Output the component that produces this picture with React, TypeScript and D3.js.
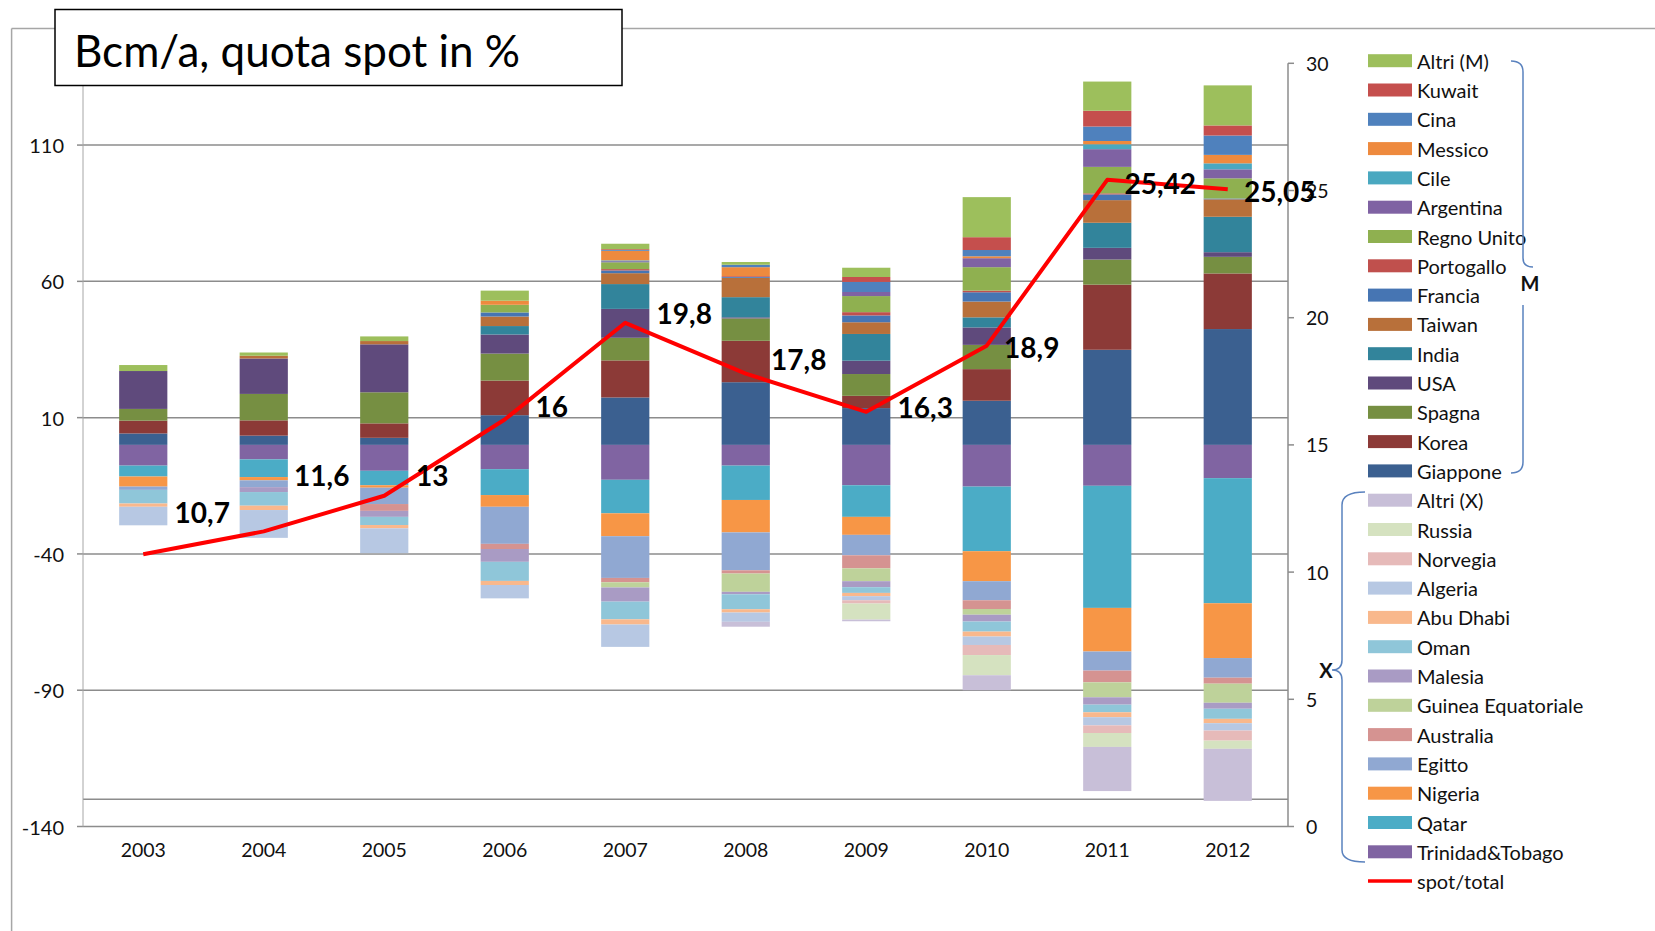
import React from 'react';
import * as d3 from 'd3';

// ---------- DATA ----------
const years = ['2003', '2004', '2005', '2006', '2007', '2008', '2009', '2010', '2011', '2012'];

// Importers (M), Bcm/a, stacked upward from zero in this order
const giappone = [4.2, 3.4, 2.6, 10.9, 17.4, 23.0, 13.5, 16.2, 34.9, 42.5];
const korea = [4.7, 5.6, 5.3, 12.7, 13.6, 15.2, 4.5, 11.6, 23.9, 20.4];
const spagna = [4.3, 9.7, 11.4, 9.9, 8.3, 8.2, 8.0, 8.9, 9.2, 6.1];
const usa = [13.9, 13.0, 17.6, 7.0, 10.6, 0.4, 4.9, 6.4, 4.3, 1.7];
const india = [0, 0, 0, 3.1, 9.1, 7.4, 9.8, 3.7, 9.2, 13.0];
const taiwan = [0, 1.0, 1.2, 3.5, 4.0, 7.1, 4.3, 5.8, 8.3, 6.4];
const francia = [0, 0, 0, 1.5, 1.0, 0.3, 2.5, 3.4, 2.1, 0.3];
const portogallo = [0, 0, 0, 0, 0.5, 0.3, 1.2, 0.6, 0.4, 0];
const regnoUnito = [0, 0, 0, 2.8, 2.5, 0, 5.9, 8.6, 9.7, 7.4];
const argentina = [0, 0, 0, 0, 0.4, 0, 1.5, 3.3, 6.5, 3.3];
const cile = [0, 0, 0, 0, 0.3, 0, 0, 0, 1.8, 2.2];
const messico = [0, 0, 0, 1.5, 3.5, 3.3, 0, 0.7, 1.2, 3.1];
const cina = [0, 0, 0, 0, 0.3, 0.9, 3.7, 2.3, 5.3, 7.1];
const kuwait = [0, 0, 0, 0, 0.3, 0, 1.8, 4.7, 5.8, 3.7];
const altriM = [2.2, 1.2, 1.7, 3.7, 2.0, 1.0, 3.4, 14.7, 10.7, 14.7];

// Exporters (X), Bcm/a, stacked downward from zero in this order
const trinidad = [7.6, 5.3, 9.5, 8.9, 12.8, 7.6, 14.8, 15.3, 15.0, 12.2];
const qatar = [4.0, 6.5, 5.3, 9.5, 12.3, 12.6, 11.6, 23.7, 44.8, 45.9];
const nigeria = [3.7, 1.2, 0.9, 4.3, 8.4, 11.9, 6.6, 11.0, 16.0, 20.1];
const egitto = [1.2, 2.5, 6.0, 13.6, 15.3, 13.9, 7.5, 7.0, 7.0, 7.2];
const australia = [0, 0, 2.5, 1.9, 1.6, 1.2, 4.8, 3.2, 4.3, 2.2];
const guinea = [0, 0, 0, 0, 1.9, 6.7, 4.7, 2.1, 5.5, 7.0];
const malesia = [0, 1.8, 2.2, 4.7, 5.2, 0.9, 2.2, 2.5, 2.7, 2.2];
const oman = [5.0, 5.0, 3.0, 7.0, 6.5, 5.5, 2.1, 3.7, 2.8, 3.7];
const abuDhabi = [1.2, 1.6, 1.2, 1.5, 1.9, 1.2, 1.2, 1.8, 1.8, 1.6];
const algeria = [6.8, 10.2, 9.1, 4.9, 8.2, 3.4, 1.5, 3.1, 3.0, 2.7];
const norvegia = [0, 0, 0, 0, 0, 0, 1.2, 3.7, 2.8, 3.7];
const russia = [0, 0, 0, 0, 0, 0, 5.9, 7.4, 5.1, 3.0];
const altriX = [0, 0, 0, 0, 0, 1.8, 0.6, 5.5, 16.2, 19.1];

// spot share of total, %
const spotShare = [10.7, 11.6, 13, 16, 19.8, 17.8, 16.3, 18.9, 25.42, 25.05];
const spotLabels = ['10,7', '11,6', '13', '16', '19,8', '17,8', '16,3', '18,9', '25,42', '25,05'];

const leftTicks = [-140, -90, -40, 10, 60, 110];
const rightTicks = [0, 5, 10, 15, 20, 25, 30];

const mSeries = [
  { name: 'Giappone', values: giappone, color: '#3B6090' },
  { name: 'Korea', values: korea, color: '#8C3A37' },
  { name: 'Spagna', values: spagna, color: '#768F42' },
  { name: 'USA', values: usa, color: '#5F4A7C' },
  { name: 'India', values: india, color: '#32849B' },
  { name: 'Taiwan', values: taiwan, color: '#B8703A' },
  { name: 'Francia', values: francia, color: '#4675B3' },
  { name: 'Portogallo', values: portogallo, color: '#C0504D' },
  { name: 'Regno Unito', values: regnoUnito, color: '#8FB050' },
  { name: 'Argentina', values: argentina, color: '#7F62A3' },
  { name: 'Cile', values: cile, color: '#4AA8C0' },
  { name: 'Messico', values: messico, color: '#EE8A3E' },
  { name: 'Cina', values: cina, color: '#4F81BD' },
  { name: 'Kuwait', values: kuwait, color: '#C54F4D' },
  { name: 'Altri (M)', values: altriM, color: '#9DBF5C' },
];

const xSeries = [
  { name: 'Trinidad&Tobago', values: trinidad, color: '#8064A2' },
  { name: 'Qatar', values: qatar, color: '#4BACC6' },
  { name: 'Nigeria', values: nigeria, color: '#F79646' },
  { name: 'Egitto', values: egitto, color: '#90A8D2' },
  { name: 'Australia', values: australia, color: '#D59391' },
  { name: 'Guinea Equatoriale', values: guinea, color: '#BED29A' },
  { name: 'Malesia', values: malesia, color: '#A99BC4' },
  { name: 'Oman', values: oman, color: '#8FC6D9' },
  { name: 'Abu Dhabi', values: abuDhabi, color: '#F9B88C' },
  { name: 'Algeria', values: algeria, color: '#B7C8E3' },
  { name: 'Norvegia', values: norvegia, color: '#E6BAB9' },
  { name: 'Russia', values: russia, color: '#D5E2C0' },
  { name: 'Altri (X)', values: altriX, color: '#C8BFD8' },
];

// ---------- LAYOUT ----------
const W = 1655;
const H = 931;
const plotL = 83;
const plotR = 1288;
const plotT = 63.3;
const plotB = 826.5;
const FONT = 'Lato, "Open Sans", sans-serif';
// manual label placement (offset of label centre from its point)
const labelOffsets: [number, number][] = [
  [59, -42], [58, -56], [48, -21], [47, -13], [59, -10],
  [53, -15], [59, -5], [45, 1], [53, 3], [52, 2],
];

export default function App() {
  const x = d3.scaleBand<string>().domain(years).range([plotL, plotR]);
  const barW = x.bandwidth() * 0.4;
  const cx = (y: string) => (x(y) as number) + x.bandwidth() / 2;
  const yL = d3.scaleLinear().domain([-140, 140]).range([plotB, plotT]);
  const yR = d3.scaleLinear().domain([0, 30]).range([plotB, plotT]);

  const all = [...mSeries.map((s) => ({ ...s, sign: 1 })), ...xSeries.map((s) => ({ ...s, sign: -1 }))];
  const table = years.map((yr, i) => {
    const row: Record<string, number | string> = { year: yr };
    all.forEach((s) => (row[s.name] = s.sign * s.values[i]));
    return row;
  });
  const stack = d3
    .stack<Record<string, number | string>>()
    .keys(all.map((s) => s.name))
    .value((d, k) => d[k] as number)
    .offset(d3.stackOffsetDiverging);
  const layers = stack(table);

  const line = d3
    .line<number>()
    .x((_, i) => cx(years[i]))
    .y((d) => yR(d));

  const legendItems = [
    ...mSeries.slice().reverse(),
    ...xSeries.slice().reverse(),
  ];
  const legY = (i: number) => 60.7 + i * 29.3;
  const braceColor = '#5A82BE';

  return (
    <svg width={W} height={H} style={{ position: 'absolute', left: 0, top: 0, background: '#fff' }} fontFamily={FONT}>
      <rect x={0} y={0} width={W} height={H} fill="#fff" />
      {/* outer frame */}
      <line x1={11.6} y1={28.5} x2={W} y2={28.5} stroke="#A6A6A6" strokeWidth={1.5} />
      <line x1={11.6} y1={28.5} x2={11.6} y2={H} stroke="#A6A6A6" strokeWidth={1.5} />

      {/* gridlines */}
      {leftTicks.map((t) => (
        <g key={t}>
          <line x1={plotL} x2={plotR} y1={yL(t)} y2={yL(t)} stroke="#8C8C8C" strokeWidth={1.5} />
          <line x1={plotL - 6} x2={plotL} y1={yL(t)} y2={yL(t)} stroke="#8C8C8C" strokeWidth={1.5} />
          <text x={plotL - 19} y={yL(t)} textAnchor="end" dominantBaseline="central" fontSize={20} fill="#111">
            {t}
          </text>
        </g>
      ))}
      <line x1={plotL} x2={plotR} y1={yL(-130)} y2={yL(-130)} stroke="#8C8C8C" strokeWidth={1.5} />
      <line x1={plotL} x2={plotL} y1={plotT} y2={plotB} stroke="#A6A6A6" strokeWidth={1} />

      {/* bars */}
      {layers.map((layer, li) => (
        <g key={layer.key} fill={all[li].color}>
          {layer.map((d, i) => {
            const y0 = yL(d[0]);
            const y1 = yL(d[1]);
            const h = Math.abs(y0 - y1);
            if (h < 0.01) return null;
            return <rect key={i} x={cx(years[i]) - barW / 2} width={barW} y={Math.min(y0, y1)} height={h} />;
          })}
        </g>
      ))}

      {/* right axis */}
      <line x1={plotR} x2={plotR} y1={plotT} y2={plotB} stroke="#8C8C8C" strokeWidth={1.5} />
      {rightTicks.map((t) => (
        <g key={t}>
          <line x1={plotR} x2={plotR + 6} y1={yR(t)} y2={yR(t)} stroke="#8C8C8C" strokeWidth={1.5} />
          <text x={plotR + 18} y={yR(t)} dominantBaseline="central" fontSize={19.5} fill="#111">
            {t}
          </text>
        </g>
      ))}

      {/* category labels */}
      {years.map((yr) => (
        <text key={yr} x={cx(yr)} y={849.5} textAnchor="middle" dominantBaseline="central" fontSize={19.5} fill="#111">
          {yr}
        </text>
      ))}

      {/* spot line */}
      <path d={line(spotShare) as string} fill="none" stroke="#FF0000" strokeWidth={4} strokeLinejoin="round" />
      {spotShare.map((v, i) => (
        <text
          key={i}
          x={cx(years[i]) + labelOffsets[i][0]}
          y={yR(v) + labelOffsets[i][1]}
          textAnchor="middle"
          dominantBaseline="central"
          fontSize={28}
          fontWeight={700}
          fill="#000"
        >
          {spotLabels[i]}
        </text>
      ))}

      {/* legend */}
      {legendItems.map((s, i) => (
        <g key={s.name}>
          <rect x={1368} y={legY(i) - 6.5} width={44} height={13} fill={s.color} />
          <text x={1417} y={legY(i)} dominantBaseline="central" fontSize={20} fill="#111">
            {s.name}
          </text>
        </g>
      ))}
      <line x1={1368} x2={1412} y1={legY(28)} y2={legY(28)} stroke="#FF0000" strokeWidth={3.5} />
      <text x={1417} y={legY(28)} dominantBaseline="central" fontSize={20} fill="#111">
        spot/total
      </text>

      {/* M brace */}
      <path
        d="M1511,61 Q1523,61 1523,72 L1523,258 Q1523,267 1533,267"
        fill="none"
        stroke={braceColor}
        strokeWidth={1.5}
      />
      <path d="M1523,305 L1523,462 Q1523,473 1511,473" fill="none" stroke={braceColor} strokeWidth={1.5} />
      <text x={1530} y={283} textAnchor="middle" dominantBaseline="central" fontSize={20} fontWeight={700} fill="#111">
        M
      </text>

      {/* X brace */}
      <path
        d="M1365,492 Q1342,492 1342,505 L1342,660 Q1342,670 1332,670 Q1342,670 1342,680 L1342,850 Q1342,862 1365,862"
        fill="none"
        stroke={braceColor}
        strokeWidth={1.5}
      />
      <text x={1326} y={670} textAnchor="middle" dominantBaseline="central" fontSize={20} fontWeight={700} fill="#111">
        X
      </text>

      {/* title box */}
      <rect x={55} y={9.5} width={567} height={76} fill="#fff" stroke="#000" strokeWidth={1.5} />
      <text x={74} y={50} dominantBaseline="central" fontSize={44} fill="#000">
        Bcm/a, quota spot in %
      </text>
    </svg>
  );
}
